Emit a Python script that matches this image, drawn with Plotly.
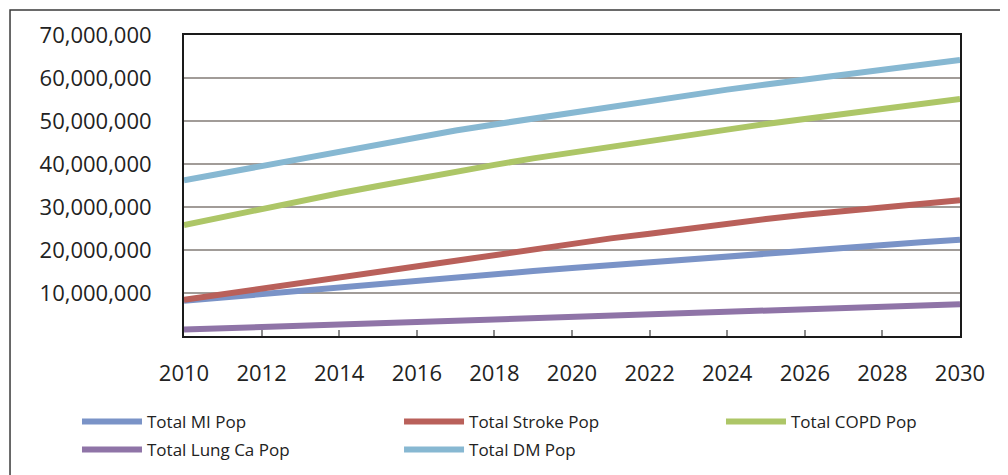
import plotly.graph_objects as go

years = list(range(2010, 2031))
mi_pop = [8.2, 9.0, 9.8, 10.6, 11.4, 12.2, 12.9, 13.7, 14.4, 15.1, 15.8, 16.5, 17.2, 17.9, 18.6, 19.3, 19.9, 20.5, 21.1, 21.8, 22.4]
stroke_pop = [8.4, 9.7, 11.1, 12.5, 13.8, 15.2, 16.5, 17.8, 19.1, 20.3, 21.5, 22.7, 23.8, 25.0, 26.1, 27.2, 28.2, 29.1, 30.0, 30.8, 31.6]
copd_pop = [25.8, 27.7, 29.6, 31.4, 33.2, 34.9, 36.6, 38.2, 39.8, 41.3, 42.7, 44.1, 45.4, 46.7, 48.0, 49.3, 50.5, 51.7, 52.9, 54.0, 55.1]
lung_pop = [1.5, 1.8, 2.1, 2.4, 2.7, 3.0, 3.3, 3.6, 4.0, 4.3, 4.6, 4.9, 5.2, 5.6, 5.9, 6.2, 6.5, 6.7, 7.0, 7.2, 7.4]
dm_pop = [36.2, 37.9, 39.6, 41.3, 43.0, 44.7, 46.3, 47.8, 49.2, 50.6, 52.0, 53.4, 54.7, 56.0, 57.3, 58.5, 59.7, 60.9, 62.0, 63.1, 64.2]

series = [
    ("Total MI Pop", mi_pop, "#7a93c7"),
    ("Total Stroke Pop", stroke_pop, "#b9605a"),
    ("Total COPD Pop", copd_pop, "#adc667"),
    ("Total Lung Ca Pop", lung_pop, "#8f74a7"),
    ("Total DM Pop", dm_pop, "#87b8d2"),
]

y_ticks = [10_000_000 * i for i in range(1, 8)]
y_labels = [f"{v:,}" for v in y_ticks]
x_ticks = list(range(2010, 2031, 2))

# legend slot positions (paper coords): columns and rows
col_x = [-0.1379, 0.2771, 0.6920]
row_y = [-0.2257, -0.3187]
legend_names = ["legend", "legend2", "legend3", "legend4", "legend5"]

fig = go.Figure()
for i, (name, vals, color) in enumerate(series):
    fig.add_trace(go.Scatter(
        x=years, y=[v * 1_000_000 for v in vals], name=name, mode="lines",
        line=dict(color=color, width=6), legend=legend_names[i],
    ))

legend_common = dict(
    orientation="h", xanchor="left", yanchor="top",
    font=dict(size=17, color="#222222"), itemwidth=60,
    bgcolor="rgba(0,0,0,0)", borderwidth=0,
)
layout_legends = {}
for i, ln in enumerate(legend_names):
    layout_legends[ln] = dict(legend_common, x=col_x[i % 3], y=row_y[i // 3])

fig.update_layout(
    width=1000, height=467,
    margin=dict(l=176, r=48, t=27, b=139, autoexpand=False),
    paper_bgcolor="white", plot_bgcolor="white",
    font=dict(family="Open Sans", color="#222222"),
    showlegend=True,
    xaxis=dict(
        range=[2010, 2030], tickvals=x_ticks, ticktext=[str(t) for t in x_ticks],
        showgrid=False, zeroline=False,
        showline=True, linecolor="#1a1a1a", linewidth=2, mirror=True,
        ticks="inside", ticklen=6, tickwidth=2, tickcolor="#8c8c8c",
        ticklabelstandoff=17, tickfont=dict(size=22, color="#222222"),
    ),
    yaxis=dict(
        range=[0, 70_000_000], tickvals=y_ticks, ticktext=y_labels,
        showgrid=True, gridcolor="#a19c98", gridwidth=2, zeroline=False,
        showline=True, linecolor="#1a1a1a", linewidth=2, mirror=True,
        ticks="", ticklabelstandoff=26, tickfont=dict(size=22, color="#222222"),
    ),
    shapes=[
        dict(type="rect", xref="paper", yref="paper",
             x0=-0.2242, x1=1.2, y0=-0.6, y1=1.0831,
             line=dict(color="#3a3a3a", width=1.5), fillcolor="rgba(0,0,0,0)", layer="below"),
    ],
    **layout_legends,
)

fig.write_html("out.html")
